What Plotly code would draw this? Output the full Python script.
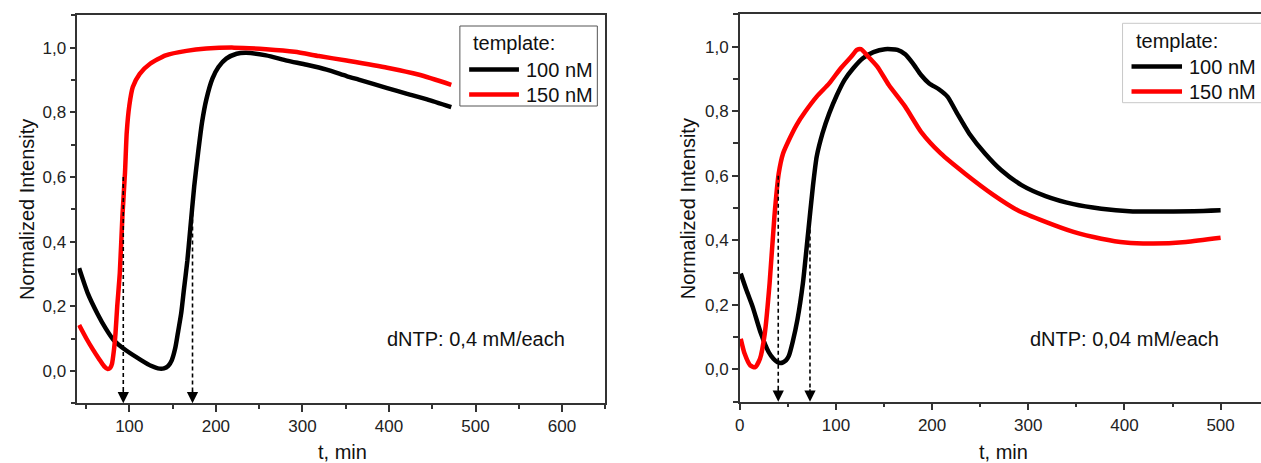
import plotly.graph_objects as go

# ---------------- data ----------------
# Left panel: dNTP 0,4 mM/each
t_left_100 = [42, 52, 63, 73, 82, 96, 114, 125, 133, 140, 145, 149, 153, 156, 160, 163, 167, 170, 175, 179.5, 184, 189, 196, 203, 212, 224, 235, 258, 282, 305, 328, 351, 365, 398, 421, 444, 472]
v_left_100 = [0.318, 0.24, 0.178, 0.13, 0.095, 0.064, 0.033, 0.016, 0.008, 0.008, 0.016, 0.033, 0.07, 0.116, 0.18, 0.25, 0.34, 0.427, 0.572, 0.676, 0.769, 0.84, 0.904, 0.94, 0.966, 0.981, 0.984, 0.976, 0.96, 0.947, 0.932, 0.912, 0.901, 0.875, 0.857, 0.84, 0.816]

t_left_150 = [42, 50, 58, 65, 71, 75, 78, 80, 82, 84, 86, 89, 92, 95, 97, 100, 104, 112, 124, 142, 166, 189, 221, 258, 291, 319, 351, 398, 435, 472]
v_left_150 = [0.142, 0.102, 0.066, 0.037, 0.014, 0.006, 0.01, 0.023, 0.06, 0.116, 0.2, 0.303, 0.479, 0.614, 0.738, 0.821, 0.878, 0.919, 0.95, 0.976, 0.99, 0.997, 1.0, 0.995, 0.987, 0.974, 0.96, 0.938, 0.916, 0.885]

# Right panel: dNTP 0,04 mM/each
t_right_100 = [1, 7, 13.5, 22, 30, 35, 39, 42, 45, 48, 51, 55, 60, 65.6, 71, 76, 80, 86, 93, 101, 109, 118, 128, 139, 151, 164, 172, 180, 188.5, 197, 207, 216, 226, 238.5, 255, 272, 293, 318, 347, 376, 405, 430, 472, 500]
v_right_100 = [0.297, 0.245, 0.193, 0.111, 0.054, 0.033, 0.023, 0.02, 0.022, 0.028, 0.042, 0.085, 0.155, 0.266, 0.421, 0.566, 0.659, 0.731, 0.793, 0.85, 0.897, 0.933, 0.964, 0.983, 0.992, 0.99, 0.976, 0.948, 0.912, 0.886, 0.868, 0.845, 0.793, 0.731, 0.669, 0.617, 0.571, 0.537, 0.512, 0.498, 0.49, 0.489, 0.49, 0.493]

t_right_150 = [1, 5, 11, 16, 21, 26, 31, 36, 40.5, 45, 51, 59, 68, 80, 93, 105, 116, 122, 126, 132, 143, 155, 172, 188.5, 209, 234, 264, 289, 318, 347, 376, 401, 430, 464, 500]
v_right_150 = [0.095, 0.049, 0.012, 0.007, 0.033, 0.111, 0.266, 0.473, 0.607, 0.669, 0.71, 0.757, 0.798, 0.845, 0.886, 0.933, 0.969, 0.99, 0.992, 0.974, 0.938, 0.881, 0.814, 0.736, 0.669, 0.607, 0.54, 0.493, 0.457, 0.426, 0.405, 0.393, 0.39, 0.395, 0.408]

# arrows marking threshold times
arrow_left_t = [93, 173]
arrow_left_top = [0.6, 0.49]
arrow_right_t = [40, 73]
arrow_right_top = [0.6, 0.52]

series_names = ["100 nM", "150 nM"]
series_colors = ["#000000", "#ff0000"]
legend_title = "template:"
panel_notes = ["dNTP: 0,4 mM/each", "dNTP: 0,04 mM/each"]
note_pos = [(606, 0.10), (500, 0.095)]

x_ranges = [[40, 650], [0, 542]]
y_range = [-0.1, 1.1]

FONT = "Liberation Sans, Arial, sans-serif"
W, H = 1261, 463

def px_x(p):
    return p / W
def px_y(p):
    return (H - p) / H

fig = go.Figure()

def add_curve(t, v, i, xa, ya):
    fig.add_trace(go.Scatter(
        x=t, y=v, mode="lines", name=series_names[i],
        line=dict(color=series_colors[i], width=4.5, shape="spline", smoothing=0.6),
        xaxis=xa, yaxis=ya, showlegend=False))

add_curve(t_left_100, v_left_100, 0, "x", "y")
add_curve(t_left_150, v_left_150, 1, "x", "y")
add_curve(t_right_100, v_right_100, 0, "x2", "y2")
add_curve(t_right_150, v_right_150, 1, "x2", "y2")

def add_arrows(ts, tops, xa, ya):
    for t, top in zip(ts, tops):
        fig.add_trace(go.Scatter(
            x=[t, t], y=[top, y_range[0] + 0.035], mode="lines",
            line=dict(color="black", width=1.6, dash="4px,3px"),
            xaxis=xa, yaxis=ya, showlegend=False, hoverinfo="skip"))
        fig.add_annotation(x=t, y=y_range[0], xref=xa, yref=ya,
                           ax=0, ay=-14, text="", showarrow=True,
                           arrowhead=2, arrowsize=1.5, arrowwidth=1.5,
                           arrowcolor="black")

add_arrows(arrow_left_t, arrow_left_top, "x", "y")
add_arrows(arrow_right_t, arrow_right_top, "x2", "y2")

# notes
for (xn, yn), txt, xr, yr in zip(note_pos, panel_notes, ["x", "x2"], ["y", "y2"]):
    fig.add_annotation(x=xn, y=yn, xref=xr, yref=yr, text=txt, showarrow=False,
                       xanchor="right", yanchor="middle",
                       font=dict(family=FONT, size=20, color="#111"))

# axis titles
for cx in [22, 686]:
    fig.add_annotation(x=px_x(cx), y=px_y(209), xref="paper", yref="paper",
                       text="Normalized Intensity", textangle=-90, showarrow=False,
                       xanchor="center", yanchor="middle",
                       font=dict(family=FONT, size=20, color="#111"))
for cx in [339, 1002]:
    fig.add_annotation(x=px_x(cx), y=px_y(452), xref="paper", yref="paper",
                       text="t, min", showarrow=False,
                       xanchor="center", yanchor="middle",
                       font=dict(family=FONT, size=20, color="#111"))

# legends (box, title, line samples, labels)
legend_specs = [
    dict(box=(456.7, 26, 594.7, 106), border="#555", title=(468.3, 43),
         line_x=(466, 516), text_x=521.5, rows=(69.5, 94.5)),
    dict(box=(1122, 23.3, 1262, 102.7), border="#c8c8c8", title=(1133.7, 40.7),
         line_x=(1131, 1181.7), text_x=1187, rows=(66.5, 91.5)),
]
for spec in legend_specs:
    x0, y0, x1, y1 = spec["box"]
    fig.add_shape(type="rect", xref="paper", yref="paper",
                  x0=px_x(x0), x1=px_x(x1), y0=px_y(y1), y1=px_y(y0),
                  line=dict(color=spec["border"], width=1), fillcolor="white", layer="above")
    fig.add_annotation(x=px_x(spec["title"][0]), y=px_y(spec["title"][1]),
                       xref="paper", yref="paper", text=legend_title, showarrow=False,
                       xanchor="left", yanchor="middle",
                       font=dict(family=FONT, size=20, color="#111"))
    for i, ry in enumerate(spec["rows"]):
        fig.add_shape(type="line", xref="paper", yref="paper",
                      x0=px_x(spec["line_x"][0]), x1=px_x(spec["line_x"][1]),
                      y0=px_y(ry), y1=px_y(ry),
                      line=dict(color=series_colors[i], width=4.5), layer="above")
        fig.add_annotation(x=px_x(spec["text_x"]), y=px_y(ry + 0.5),
                           xref="paper", yref="paper", text=series_names[i], showarrow=False,
                           xanchor="left", yanchor="middle",
                           font=dict(family=FONT, size=20, color="#111"))

tickfont = dict(family=FONT, size=17, color="#222")
common_x = dict(showgrid=False, zeroline=False, showline=True, linecolor="#333", linewidth=1.5,
                ticks="outside", ticklen=7, tickwidth=1.5, tickcolor="#333",
                dtick=100, tick0=0, tickfont=tickfont,
                minor=dict(ticks="outside", ticklen=4, tickwidth=1.5, tickcolor="#333", dtick=50, tick0=0))
common_y = dict(showgrid=False, zeroline=False, showline=True, linecolor="#333", linewidth=1.5,
                ticks="outside", ticklen=6, tickwidth=1.5, tickcolor="#333",
                dtick=0.2, tick0=0, tickformat=".1f", tickfont=tickfont, range=y_range,
                minor=dict(ticks="outside", ticklen=5, tickwidth=1.5, tickcolor="#333", dtick=0.1, tick0=0))

fig.update_layout(
    width=W, height=H, paper_bgcolor="white", plot_bgcolor="white",
    margin=dict(l=0, r=0, t=0, b=0), separators=", ",
    xaxis=dict(domain=[px_x(72.7), px_x(602.7)], range=x_ranges[0], anchor="y",
               mirror=True, **common_x),
    yaxis=dict(domain=[px_y(403.3), px_y(15.3)], anchor="x", mirror=True, **common_y),
    xaxis2=dict(domain=[px_x(737.7), 1.0], range=x_ranges[1], anchor="y2",
                mirror=True, **common_x),
    yaxis2=dict(domain=[px_y(401.7), px_y(14.3)], anchor="x2", mirror=False, **common_y),
    showlegend=False,
)

fig.write_html("out.html", config={"displayModeBar": False},
               post_script="document.body.style.margin='0';document.body.style.overflow='hidden';")
